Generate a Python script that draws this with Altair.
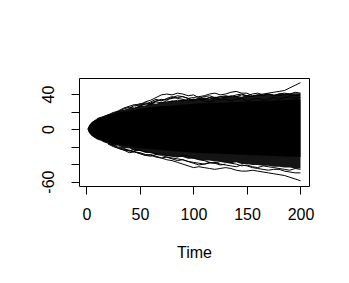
import altair as alt
import pandas as pd

# Dense core of the random-walk bundle (solid black)
core_t = [1, 2, 4, 6, 8, 10, 15, 20, 25, 30, 40, 50, 60, 70, 80, 90, 100, 120, 140, 160, 180, 200]
core_hi = [0, 3, 6, 8, 10, 11, 13, 15, 17, 19, 21, 23, 25, 26, 27, 28, 29, 30, 31, 32, 33, 34]
core_lo = [0, -3, -6, -8, -10, -11, -13, -15, -17, -18, -20, -22, -23, -24, -25, -26, -27, -28, -29, -30, -31, -32]

# Lacy fringe of many overlapping walks (dark, ragged edge)
fr_t = [1, 3, 5, 10, 15, 20, 25, 30, 35, 40, 45, 50, 55, 60, 65, 70, 75, 80, 85, 90, 95, 100,
        105, 110, 115, 120, 125, 130, 135, 140, 145, 150, 155, 160, 165, 170, 175, 180, 185, 190, 195, 200]
fr_hi = [0, 5, 8, 12, 14, 17, 18, 21, 22, 24, 24, 27, 27, 30, 29, 31, 31, 33, 32, 34, 33, 35,
         34, 36, 35, 37, 36, 38, 37, 38, 37, 39, 38, 39, 39, 40, 39, 41, 40, 41, 41, 41]
fr_lo = [0, -5, -8, -12, -14, -16, -19, -19, -22, -22, -25, -25, -27, -27, -29, -29, -31, -31, -32, -32, -34, -34,
         -35, -36, -36, -37, -37, -38, -39, -38, -40, -40, -41, -41, -42, -42, -43, -43, -44, -44, -45, -45]

# Outer individual walks
t1_t = list(range(60, 201, 5))
t1_v = [30, 32, 33, 34, 35, 36, 37, 35, 36, 37, 38, 40, 41, 39, 40, 42, 43, 41, 41, 38, 39, 40, 41, 42, 43, 44, 47, 50, 53]
t2_t = list(range(45, 201, 5))
t2_v = [26, 28, 31, 33, 36, 39, 40, 39, 41, 40, 38, 39, 36, 34, 36, 35, 33, 34, 32, 34, 35, 32, 34, 35, 33, 34, 36, 34, 36, 37, 35, 36]
t3_t = list(range(40, 201, 5))
t3_v = [24, 27, 29, 28, 31, 34, 32, 35, 37, 35, 34, 32, 33, 35, 37, 38, 36, 37, 38, 37, 39, 40, 38, 40, 41, 39, 40, 38, 40, 41, 40, 42, 41]
t4_t = list(range(20, 201, 5))
t4_v = [15, 18, 21, 24, 26, 28, 27, 30, 29, 31, 30, 32, 31, 33, 32, 34, 33, 35, 34, 36, 35, 37, 36, 38, 37, 39, 38, 37, 39, 38, 40, 39, 38, 40, 39, 38, 39]
t5_t = list(range(10, 121, 5))
t5_v = [12, 14, 16, 19, 20, 23, 25, 24, 26, 29, 28, 32, 34, 33, 36, 38, 37, 35, 33, 34, 32, 31, 33]
b1_t = list(range(30, 201, 5))
b1_v = [-20, -22, -25, -26, -27, -29, -30, -32, -33, -35, -36, -38, -40, -42, -44, -43, -44, -45, -46, -45, -44, -45, -47, -48, -48, -47, -48, -49, -50, -51, -52, -53, -55, -57, -59]
b2_t = list(range(20, 201, 5))
b2_v = [-16, -18, -21, -23, -24, -26, -28, -30, -31, -29, -30, -32, -33, -34, -35, -37, -38, -39, -40, -39, -38, -40, -41, -42, -43, -41, -42, -44, -45, -46, -47, -46, -46, -48, -49, -50, -50]
b3_t = list(range(20, 201, 5))
b3_v = [-17, -20, -22, -24, -25, -23, -24, -26, -27, -28, -29, -30, -31, -32, -30, -31, -33, -35, -36, -38, -39, -37, -38, -39, -40, -42, -41, -43, -44, -42, -43, -44, -45, -46, -47, -45, -46]
b4_t = list(range(15, 131, 5))
b4_v = [-14, -16, -19, -22, -24, -27, -26, -28, -30, -29, -31, -33, -32, -34, -36, -35, -37, -39, -41, -40, -38, -39, -41, -40]

y_ticks = [-60, -40, -20, 0, 20, 40]
x_ticks = [0, 50, 100, 150, 200]

core = pd.DataFrame({"t": core_t, "hi": core_hi, "lo": core_lo})
fringe = pd.DataFrame({"t": fr_t, "hi": fr_hi, "lo": fr_lo})
rows = []
for name, ts, vs in [("t1", t1_t, t1_v), ("t2", t2_t, t2_v), ("t3", t3_t, t3_v), ("t4", t4_t, t4_v),
                     ("t5", t5_t, t5_v), ("b1", b1_t, b1_v), ("b2", b2_t, b2_v), ("b3", b3_t, b3_v),
                     ("b4", b4_t, b4_v)]:
    for t, v in zip(ts, vs):
        rows.append({"s": name, "t": t, "v": v})
walks = pd.DataFrame(rows)

FONT = "Liberation Sans"
xscale = alt.Scale(domain=[-6.96, 207.96], nice=False, zero=False)
yscale = alt.Scale(domain=[-65.0, 58.3], nice=False, zero=False)

xaxis = alt.Axis(values=x_ticks, tickCount=10, title="Time", grid=False, domain=False, tickSize=8,
                 tickColor="black", labelColor="black", labelFont=FONT, labelFontSize=16,
                 labelPadding=12, titleFont=FONT, titleFontSize=16, titleFontWeight="normal",
                 titleColor="black", titlePadding=22, labelFlush=False, labelOverlap=False)
yaxis = alt.Axis(values=y_ticks, tickCount=10, title=None, grid=False, domain=False, tickSize=8,
                 tickColor="black", labelColor="black", labelFont=FONT, labelFontSize=16,
                 labelAngle=-90, labelAlign="center", labelBaseline="alphabetic",
                 labelPadding=18, labelFlush=False, labelOverlap=False,
                 labelExpr="datum.value == -60 ? '-60' : datum.value == 0 ? '0' : datum.value == 40 ? '40' : ''")

fr = alt.Chart(fringe).mark_area(color="#141414").encode(
    x=alt.X("t:Q", scale=xscale, axis=xaxis),
    y=alt.Y("hi:Q", scale=yscale, axis=yaxis),
    y2="lo:Q",
)
co = alt.Chart(core).mark_area(color="black", interpolate="monotone").encode(
    x=alt.X("t:Q", scale=xscale),
    y=alt.Y("hi:Q", scale=yscale),
    y2="lo:Q",
)
ln = alt.Chart(walks).mark_line(color="black", strokeWidth=1).encode(
    x=alt.X("t:Q", scale=xscale),
    y=alt.Y("v:Q", scale=yscale),
    detail="s:N",
)

chart = alt.layer(fr, co, ln).properties(
    width=230, height=108,
    autosize=alt.AutoSizeParams(type="none"),
    padding={"left": 79, "top": 78, "right": 40, "bottom": 97},
    background="white",
).configure_view(stroke="black", strokeWidth=1)

chart.save("out.html", embed_options={"renderer": "svg", "actions": False})
